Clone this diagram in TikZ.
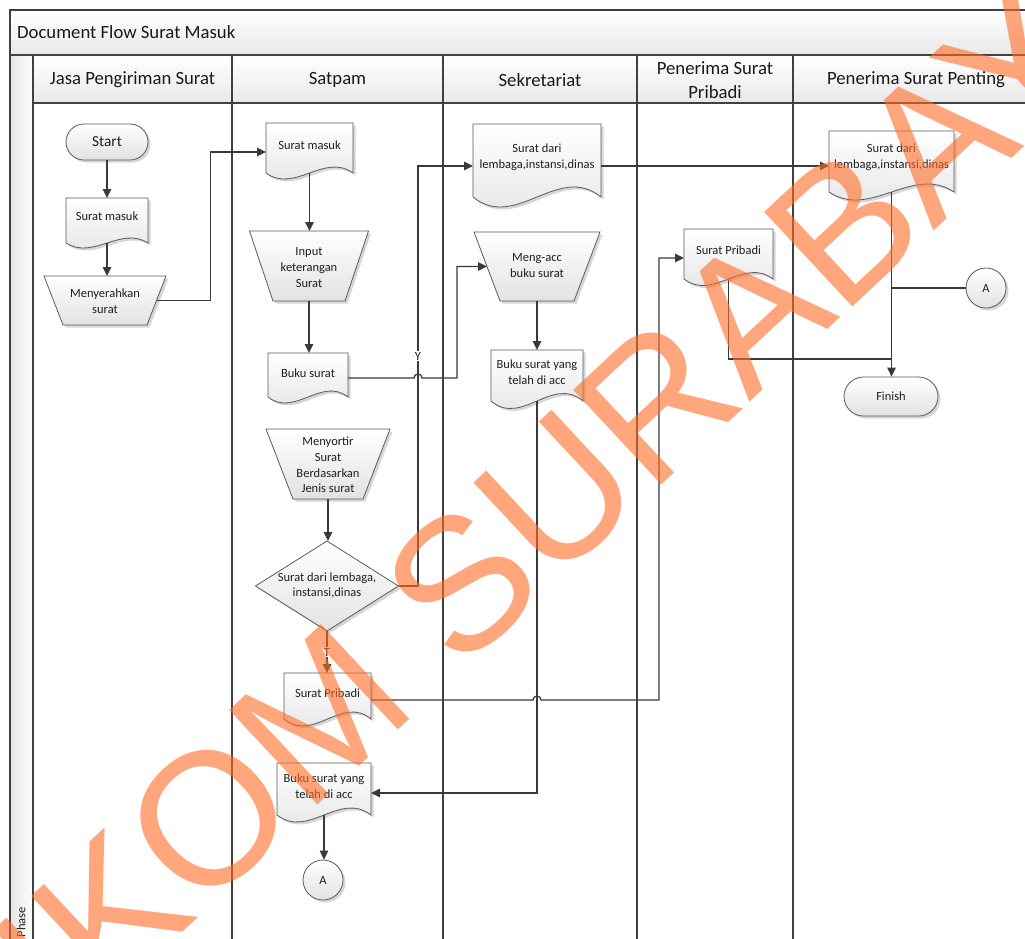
\documentclass[tikz,border=0pt]{standalone}
\usepackage{fontspec}
\setmainfont{Carlito}
\newfontfamily\wmfont{Liberation Sans}
\usetikzlibrary{arrows.meta,shadows,calc}
\definecolor{lanec}{HTML}{404040}
\definecolor{conc}{HTML}{3A3A3A}
\definecolor{shpc}{HTML}{5A5A5A}
\definecolor{shadebot}{HTML}{E2E2E2}
\definecolor{hdrbot}{HTML}{E8E8E8}
\definecolor{wmc}{RGB}{255,108,38}
\tikzset{
  lane/.style={line width=2.4pt, draw=lanec},
  conn/.style={line width=1.3pt, draw=conc},
  arr/.style={conn, -{Triangle[length=9pt,width=8.5pt]}},
  shp/.style={draw=shpc, line width=0.8pt, top color=white, bottom color=shadebot,
    drop shadow={shadow xshift=2.5pt, shadow yshift=-2.5pt, opacity=0.16, fill=black}},
  box/.style={inner sep=0pt, outer sep=0pt},
  txt/.style={font=\fontsize{12.5}{15.8}\selectfont, align=center, inner sep=0pt, text=black!88},
  hdr/.style={font=\fontsize{18.7}{24}\selectfont, align=center, inner sep=0pt, text=black!90},
  lbl/.style={txt, fill=white, inner sep=1pt}
}
% document shape: name, x0, x1, ytop, ybottom, amplitude, ytext, text
\newcommand\docnode[8]{%
  \pgfmathsetmacro\mydw{#3-#2}%
  \pgfmathsetmacro\mydh{#5-#4}%
  \pgfmathsetmacro\mydk{3.46*#6}%
  \pgfmathsetmacro\mydxa{#3-\mydw/3}%
  \pgfmathsetmacro\mydxb{#2+\mydw/3}%
  \pgfmathsetmacro\mydya{#5-\mydk}%
  \pgfmathsetmacro\mydyb{#5+\mydk}%
  \pgfmathsetmacro\mydxc{(#2+#3)/2}%
  \pgfmathsetmacro\mydyc{(#4+#5)/2}%
  \path[shp] (#2,#4) -- (#3,#4) -- (#3,#5) .. controls (\mydxa,\mydya) and (\mydxb,\mydyb) .. (#2,#5) -- cycle;
  \node[box, minimum width=\mydw pt, minimum height=\mydh pt] (#1) at (\mydxc,\mydyc) {};
  \node[txt] (#1t) at (\mydxc,#7) {#8};
}
% manual operation: name, xc, ytop, ybot, half top, half bottom, ytext, text
\newcommand\trapnode[8]{%
  \pgfmathsetmacro\mytw{2*#5}%
  \pgfmathsetmacro\myth{#4-#3}%
  \pgfmathsetmacro\mytyc{(#3+#4)/2}%
  \pgfmathsetmacro\mytm{(#5+#6)/2}%
  \path[shp] ({#2-#5},#3) -- ({#2+#5},#3) -- ({#2+#6},#4) -- ({#2-#6},#4) -- cycle;
  \node[box, minimum width=\mytw pt, minimum height=\myth pt] (#1) at (#2,\mytyc) {};
  \coordinate (#1-l) at ({#2-\mytm},\mytyc);
  \coordinate (#1-r) at ({#2+\mytm},\mytyc);
  \node[txt] (#1t) at (#2,#7) {#8};
}
\begin{document}
\begin{tikzpicture}[x=1pt,y=-1pt]
\useasboundingbox (0,0) rectangle (1025,938);
\clip (0,0) rectangle (1025,938);
\fill[white] (0,0) rectangle (1025,938);
% pool background
\fill[top color=white,bottom color=hdrbot] (10,10) rectangle (1040,55);
\fill[top color=white,bottom color=hdrbot] (33,55) rectangle (1040,103);
\fill[left color=gray!20,right color=white] (10,55) rectangle (33,950);
\draw[lane] (10,950) -- (10,10) -- (1040,10);
\draw[lane] (10,55) -- (1040,55);
\draw[lane] (33,103) -- (1040,103);
\foreach \x in {33,232,443,637,793} \draw[lane] (\x,55) -- (\x,950);
\node[hdr, anchor=west] (title) at (17,32) {Document Flow Surat Masuk};
\node[hdr] (h1) at (132.5,80) {Jasa Pengiriman Surat};
\node[hdr] (h2) at (337.5,80) {Satpam};
\node[hdr] (h3) at (540,80) {Sekretariat};
\node[hdr] (h4) at (715,80) {Penerima Surat\\Pribadi};
\node[hdr] (h5) at (916,80) {Penerima Surat Penting};
\node[txt, rotate=90] (phase) at (21,922) {Phase};
% shapes
\node[shp, rounded corners=18pt, minimum width=82pt, minimum height=36pt, inner sep=0pt,
  font=\fontsize{15.3}{18}\selectfont, text=black!88] (start) at (107,142) {Start};
\docnode{d1}{66}{148}{198}{243}{5}{216}{Surat masuk}
\trapnode{t1}{105}{276}{325}{61}{42}{301}{Menyerahkan\\surat}
\docnode{d2}{266}{353}{123}{173}{6}{145}{Surat masuk}
\trapnode{t2}{309}{231}{301}{59.5}{36}{267.5}{Input\\keterangan\\Surat}
\docnode{d3}{268}{348}{353}{397}{6}{373}{Buku surat}
\trapnode{t4}{328}{429}{499}{62}{35}{465}{Menyortir\\Surat\\Berdasarkan\\Jenis surat}
\path[shp] (327,541) -- (398.5,586) -- (327,631) -- (255.5,586) -- cycle;
\node[box, minimum width=143pt, minimum height=90pt] (dia) at (327,586) {};
\node[txt] (diat) at (327,585.5) {Surat dari lembaga,\\instansi,dinas};
\docnode{d4}{284}{371}{673}{719}{7}{693}{Surat Pribadi}
\docnode{d5}{277}{371}{763}{815}{7}{786}{Buku surat yang\\telah di acc}
\node[shp, circle, minimum size=40pt, inner sep=0pt, font=\fontsize{12.5}{15}\selectfont, text=black!88] (a1) at (323,880) {A};
\docnode{d6}{473}{601}{124}{197}{10}{157}{Surat dari\\lembaga,instansi,dinas}
\trapnode{t3}{537}{232}{301}{63}{37}{265.5}{Meng-acc\\buku surat}
\docnode{d7}{491}{583}{350}{401}{7.5}{372}{Buku surat yang\\telah di acc}
\docnode{d8}{684}{773}{229}{279}{6.5}{250}{Surat Pribadi}
\docnode{d9}{829}{954}{131}{192}{8}{157}{Surat dari\\lembaga,instansi,dinas}
\node[shp, circle, minimum size=40pt, inner sep=0pt, font=\fontsize{12.5}{15}\selectfont, text=black!88] (a2) at (986,288) {A};
\node[shp, rounded corners=19.5pt, minimum width=94pt, minimum height=39pt, inner sep=0pt,
  font=\fontsize{12.5}{15}\selectfont, text=black!88] (fin) at (891,396.5) {Finish};
% connectors
\draw[arr] (start.south) -- (d1.north);
\draw[arr] (d1.south) -- (d1.south |- t1.north);
\draw[arr] (t1-r) -- ++(54,0) |- ([yshift=-4pt]d2.west);
\draw[arr] (d2.south) -- (d2.south |- t2.north);
\draw[arr] (t2.south) -- (t2.south |- d3.north);
\draw[arr] ([yshift=-3pt]d3.east) -- (414,378) arc[start angle=180,end angle=0,radius=4pt] -- (457,378) |- (t3-l);
\draw[arr] (t3.south) -- (t3.south |- d7.north);
\draw[arr] (t4.south) -- (t4.south |- dia.north);
\draw[arr] (dia.east) -- (418,586) |- ([yshift=-5.5pt]d6.west);
\node[lbl] (ylab) at (418,356) {Y};
\draw[arr] (dia.south) -- (dia.south |- d4.north);
\node[lbl] (tlab) at (327,652) {T};
\draw[arr] ([yshift=-4pt]d4.east) -- (533,700) arc[start angle=180,end angle=0,radius=4pt] -- (659,700) |- ([yshift=-4pt]d8.west);
\draw[arr] (d5.south) -- (d5.south |- a1.north);
\draw[arr] (d7.south) |- ([yshift=-4pt]d5.east);
\coordinate (d6e) at ([yshift=-5.5pt]d6.east);
\draw[arr] (d6e) -- (d6e -| d9.west);
\draw[conn] (d8.south) -- ++(0,80) -| (d9.south);
\draw[arr] (d9.south) -- (d9.south |- fin.north);
\draw[conn] (a2.west) -- (a2.west -| d9.south);
% watermark
\node[font=\wmfont\fontsize{188}{188}\selectfont, text=wmc, text opacity=0.6,
  rotate=43, inner sep=0pt] (wm) at (497,550) {STIKOM SURABAYA};
\end{tikzpicture}
\end{document}
